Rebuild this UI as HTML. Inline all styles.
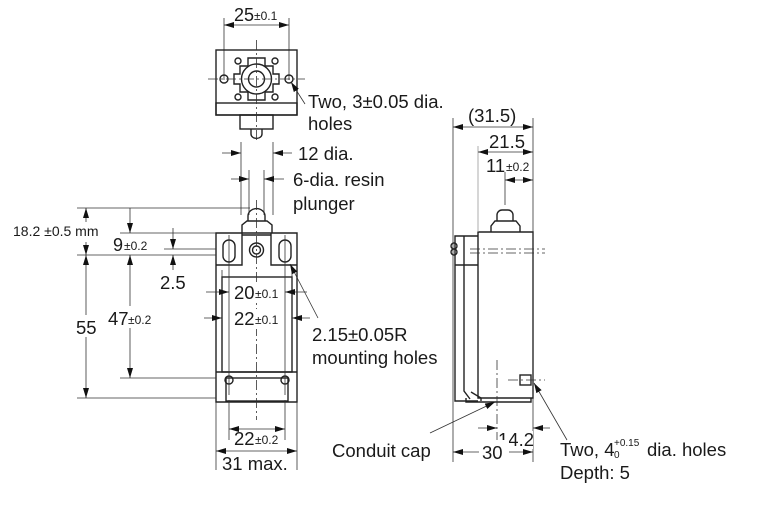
<!DOCTYPE html>
<html><head><style>
body{margin:0;background:#fff;width:766px;height:520px;overflow:hidden}
svg{display:block}
text{font-family:"Liberation Sans",sans-serif;fill:#1a1a1a}
.l{stroke:#222;stroke-width:1.4;fill:none}
.t{stroke:#333;stroke-width:0.8;fill:none}
.c{stroke:#333;stroke-width:0.8;fill:none;stroke-dasharray:10 3 2 3}
</style></head><body>
<svg width="766" height="520" viewBox="0 0 766 520">
<defs>
<marker id="a" viewBox="0 0 10 6" refX="10" refY="3" markerWidth="10" markerHeight="6" orient="auto-start-reverse" markerUnits="userSpaceOnUse"><path d="M0,0L10,3L0,6Z" fill="#111"/></marker>
</defs>

<!-- TOP VIEW -->
<text x="234" y="21" font-size="18">25</text><text x="254" y="20" font-size="12">±0.1</text>
<line class="t" x1="224" y1="18" x2="224" y2="80"/><line class="t" x1="289" y1="18" x2="289" y2="80"/>
<line class="t" x1="224" y1="25" x2="289" y2="25" marker-start="url(#a)" marker-end="url(#a)"/>
<rect class="l" x="216" y="50" width="81" height="65"/>
<rect class="l" x="216" y="103" width="81" height="12"/>
<rect class="l" x="240" y="115" width="33" height="14"/>
<path class="l" d="M251,129 v5 a5,4 0 0 0 11,0 v-5"/>
<path class="l" d="M248,58 h17 v8 h8 v8 h6 v10 h-6 v8 h-8 v8 h-17 v-8 h-8 v-8 h-6 v-10 h6 v-8 h8z"/>
<circle class="l" cx="256.5" cy="79" r="15"/>
<circle class="l" cx="256.5" cy="79" r="8"/>
<g class="l"><circle cx="224" cy="79" r="4"/><circle cx="289" cy="79" r="4"/><circle cx="238" cy="61" r="3"/><circle cx="275" cy="61" r="3"/><circle cx="238" cy="97" r="3"/><circle cx="275" cy="97" r="3"/></g>
<line class="c" x1="208" y1="79" x2="305" y2="79"/><line class="c" x1="256.5" y1="40" x2="256.5" y2="140"/>
<line class="t" x1="291" y1="82" x2="305" y2="104" marker-start="url(#a)"/>
<text x="308" y="108" font-size="18.5">Two, 3±0.05 dia.</text>
<text x="308" y="130" font-size="18.5">holes</text>

<!-- plunger dims -->
<line class="t" x1="241" y1="142" x2="241" y2="215"/><line class="t" x1="273" y1="142" x2="273" y2="215"/>
<line class="t" x1="222" y1="153" x2="241" y2="153" marker-end="url(#a)"/><line class="t" x1="292" y1="153" x2="273" y2="153" marker-end="url(#a)"/>
<text x="298" y="160" font-size="18.5">12 dia.</text>
<line class="t" x1="249" y1="170" x2="249" y2="215"/><line class="t" x1="264" y1="170" x2="264" y2="215"/>
<line class="t" x1="231" y1="179" x2="249" y2="179" marker-end="url(#a)"/><line class="t" x1="284" y1="179" x2="264" y2="179" marker-end="url(#a)"/>
<text x="293" y="186" font-size="18.5">6-dia. resin</text>
<text x="293" y="210" font-size="18.5">plunger</text>

<!-- FRONT VIEW -->
<path class="l" d="M242,233 v-8 l5,-4 h20 l5,4 v8"/>
<path class="l" d="M248,221 v-5 a8,7 0 0 1 17,0 v5"/>
<path class="l" d="M216,233 h81 v169 h-81z"/>
<path class="l" d="M216,265 h26 v-32 M297,265 h-26 v-32 M242,265 v-30 h29"/>
<rect class="l" x="222" y="277" width="70" height="95"/>
<rect class="l" x="226" y="378" width="62" height="23"/>
<line class="l" x1="216" y1="372" x2="297" y2="372"/>
<circle class="l" cx="256.5" cy="250" r="7"/><circle class="l" cx="256.5" cy="250" r="4"/>
<rect class="l" x="223" y="240" width="12" height="22" rx="6"/>
<rect class="l" x="279" y="240" width="12" height="22" rx="6"/>
<circle class="l" cx="229" cy="380" r="4"/><circle class="l" cx="285" cy="380" r="4"/>
<line class="c" x1="256.5" y1="200" x2="256.5" y2="420"/>
<line class="t" x1="229" y1="235" x2="229" y2="395"/><line class="t" x1="285" y1="235" x2="285" y2="395"/>
<line class="t" x1="222" y1="270" x2="222" y2="320"/><line class="t" x1="292" y1="270" x2="292" y2="320"/>
<line class="t" x1="206" y1="292" x2="229" y2="292" marker-end="url(#a)"/><line class="t" x1="307" y1="292" x2="285" y2="292" marker-end="url(#a)"/>
<rect x="234" y="283" width="46" height="20" fill="#fff"/>
<text x="234" y="299" font-size="18.5">20</text><text x="255" y="298" font-size="12">±0.1</text>
<line class="t" x1="204" y1="318" x2="222" y2="318" marker-end="url(#a)"/><line class="t" x1="310" y1="318" x2="292" y2="318" marker-end="url(#a)"/>
<rect x="234" y="309" width="46" height="20" fill="#fff"/>
<text x="234" y="325" font-size="18.5">22</text><text x="255" y="324" font-size="12">±0.1</text>
<line class="t" x1="290" y1="264" x2="318" y2="318" marker-start="url(#a)"/>
<text x="312" y="341" font-size="18.5">2.15±0.05R</text>
<text x="312" y="364" font-size="18.5">mounting holes</text>
<line class="t" x1="229" y1="400" x2="229" y2="440"/><line class="t" x1="285" y1="400" x2="285" y2="440"/>
<line class="t" x1="229" y1="429" x2="285" y2="429" marker-start="url(#a)" marker-end="url(#a)"/>
<text x="234" y="445" font-size="18.5">22</text><text x="255" y="444" font-size="12">±0.2</text>
<line class="t" x1="216" y1="402" x2="216" y2="470"/><line class="t" x1="297" y1="402" x2="297" y2="470"/>
<line class="t" x1="216" y1="451" x2="297" y2="451" marker-start="url(#a)" marker-end="url(#a)"/>
<text x="222" y="470" font-size="18.5">31 max.</text>

<!-- left dims -->
<line class="t" x1="77" y1="208" x2="250" y2="208"/>
<line class="t" x1="77" y1="255" x2="216" y2="255"/>
<line class="t" x1="77" y1="398" x2="216" y2="398"/>
<line class="t" x1="120" y1="233" x2="216" y2="233"/>
<line class="t" x1="164" y1="249" x2="216" y2="249"/>
<line class="t" x1="120" y1="378" x2="216" y2="378"/>
<line class="t" x1="86" y1="222" x2="86" y2="208" marker-end="url(#a)"/>
<line class="t" x1="86" y1="242" x2="86" y2="255" marker-end="url(#a)"/>
<text x="13" y="236" font-size="14">18.2 ±0.5 mm</text>
<line class="t" x1="86" y1="255" x2="86" y2="398" marker-start="url(#a)" marker-end="url(#a)"/>
<rect x="72" y="315" width="30" height="22" fill="#fff"/>
<text x="76" y="334" font-size="18.5">55</text>
<line class="t" x1="130" y1="208" x2="130" y2="233" marker-end="url(#a)"/>
<text x="113" y="251" font-size="18">9</text><text x="124" y="250" font-size="12">±0.2</text>
<line class="t" x1="130" y1="255" x2="130" y2="378" marker-start="url(#a)" marker-end="url(#a)"/>
<rect x="106" y="306" width="48" height="22" fill="#fff"/>
<text x="108" y="325" font-size="18.5">47</text><text x="128" y="324" font-size="12">±0.2</text>
<line class="t" x1="173" y1="228" x2="173" y2="249" marker-end="url(#a)"/>
<line class="t" x1="173" y1="270" x2="173" y2="255" marker-end="url(#a)"/>
<text x="160" y="289" font-size="18.5">2.5</text>

<!-- SIDE VIEW -->
<path class="l" d="M478,232 h55 v166 h-55z"/>
<path class="l" d="M491,232 v-6 l4,-5 h21 l4,5 v6"/>
<path class="l" d="M497,221 v-6 a5,5 0 0 1 5,-5 h6 a5,5 0 0 1 5,5 v6"/>
<path class="l" d="M478,236 h-23 v165 h23 M464,236 v155 l6,8 M455,265 h23 M471,392 l10,6 v3"/>
<circle class="l" cx="454" cy="246" r="3"/><circle class="l" cx="454" cy="252" r="3"/>
<path class="l" d="M466,398 v4 h65 v-4"/>
<line class="c" x1="470" y1="249" x2="545" y2="249"/><line class="c" x1="470" y1="253" x2="545" y2="253"/>
<rect class="l" x="520" y="375" width="11" height="10"/>
<line class="c" x1="508" y1="380" x2="545" y2="380"/>
<line class="t" x1="453" y1="118" x2="453" y2="462"/>
<line class="t" x1="533" y1="118" x2="533" y2="462"/>
<line class="t" x1="478" y1="146" x2="478" y2="232" style="stroke:#999"/>
<line class="t" x1="505" y1="172" x2="505" y2="205"/>
<line class="t" x1="453" y1="127" x2="533" y2="127" marker-start="url(#a)" marker-end="url(#a)"/>
<text x="468" y="122" font-size="18.5">(31.5)</text>
<line class="t" x1="478" y1="152" x2="533" y2="152" marker-start="url(#a)" marker-end="url(#a)"/>
<text x="489" y="148" font-size="18.5">21.5</text>
<line class="t" x1="505" y1="180" x2="533" y2="180" marker-start="url(#a)" marker-end="url(#a)"/>
<text x="486" y="172" font-size="18.5">11</text><text x="506" y="171" font-size="12">±0.2</text>
<line class="c" x1="497" y1="360" x2="497" y2="440"/>
<line class="t" x1="478" y1="428" x2="497" y2="428" marker-end="url(#a)"/>
<line class="t" x1="550" y1="428" x2="533" y2="428" marker-end="url(#a)"/>
<rect x="499" y="431" width="34" height="18" fill="#fff"/>
<text x="498" y="446" font-size="18.5">14.2</text>
<line class="t" x1="453" y1="452" x2="533" y2="452" marker-start="url(#a)" marker-end="url(#a)"/>
<rect x="479" y="440" width="30" height="22" fill="#fff"/>
<text x="482" y="459" font-size="18.5">30</text>
<line class="t" x1="430" y1="433" x2="495" y2="402" marker-end="url(#a)"/>
<text x="332" y="457" font-size="18.5">Conduit cap</text>
<line class="t" x1="534" y1="383" x2="567" y2="440" marker-start="url(#a)"/>
<text x="560" y="456" font-size="18.5">Two, 4</text>
<text x="614" y="446" font-size="10">+0.15</text><text x="614" y="458" font-size="10">0</text>
<text x="647" y="456" font-size="18.5">dia. holes</text>
<text x="560" y="479" font-size="18.5">Depth: 5</text>
</svg>
</body></html>
